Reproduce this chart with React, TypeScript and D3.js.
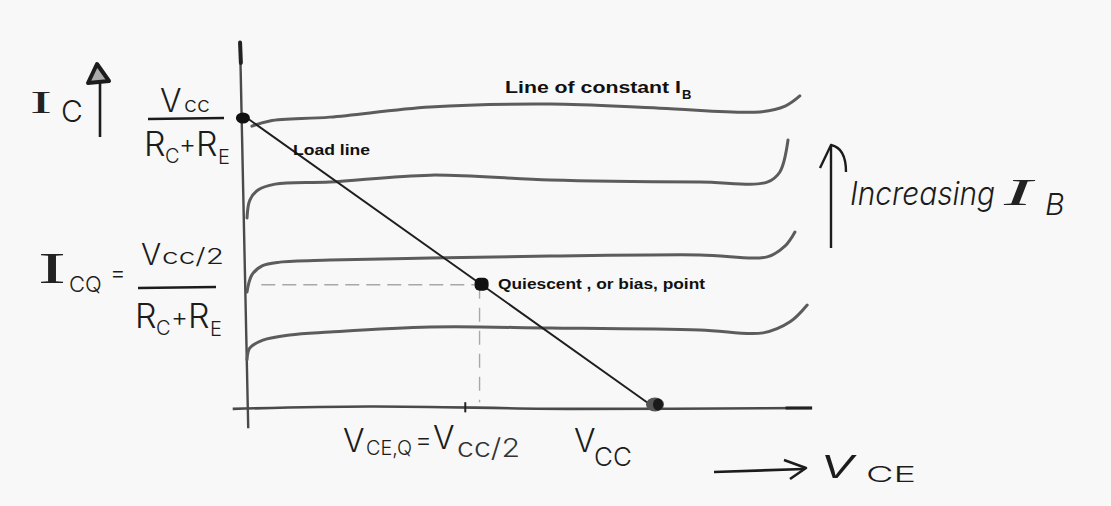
import React from "react";
import * as d3 from "d3";

// Collector current in units of Vcc/(Rc+Re) / 10, collector-emitter voltage in units of Vcc / 10
const VCC = 10;
const IC_SAT = 10;

// Collector characteristic curves, one per base current (lowest to highest), as [VCE, IC]
const curveLow: [number, number][] = [
  [0, 1.66], [0.07, 2.07], [0.39, 2.34], [1.05, 2.52], [2.03, 2.62], [4.49, 2.79],
  [7.43, 2.76], [11.1, 2.69], [12.65, 2.59], [13.31, 2.97], [13.73, 3.55],
];
const curveMid: [number, number][] = [
  [0, 4.0], [0.12, 4.59], [0.37, 4.9], [0.81, 5.03], [2.03, 5.1], [4.49, 5.17],
  [7.43, 5.24], [11.1, 5.28], [12.75, 5.21], [13.19, 5.59], [13.43, 6.07],
];
const curveHigh: [number, number][] = [
  [0, 6.55], [0.07, 7.17], [0.27, 7.52], [0.69, 7.72], [2.03, 7.79], [4.49, 8.03],
  [7.43, 7.86], [11.1, 7.79], [12.75, 7.79], [13.06, 8.14], [13.26, 9.24],
];
const curveTop: [number, number][] = [
  [0.12, 9.72], [0.56, 9.9], [2.03, 10.03], [4.49, 10.38], [7.43, 10.48],
  [10.12, 10.34], [12.57, 10.21], [13.19, 10.41], [13.55, 10.76],
];
const ibCurves = [curveLow, curveMid, curveHigh, curveTop];

// Load line end points and the operating point on it
const loadLine: [number, number][] = [[0, IC_SAT], [VCC, 0]];
const VCE_Q = 5.75;
const IC_Q = IC_SAT - VCE_Q;
const VCE_Q_TICK = 5.35;

const x = d3.scaleLinear().domain([0, VCC]).range([247, 655]);
const y = d3.scaleLinear().domain([0, IC_SAT]).range([408, 118]);

const line = d3
  .line<[number, number]>()
  .x((d) => x(d[0]))
  .y((d) => y(d[1]))
  .curve(d3.curveCatmullRom.alpha(0.5));

const straight = d3
  .line<[number, number]>()
  .x((d) => x(d[0]))
  .y((d) => y(d[1]));

const hand = { fontFamily: "Inter", fontWeight: 300, fill: "#1c1c1c" } as const;
const handSerif = { fontFamily: "Liberation Serif", fill: "#222" } as const;
const bold = { fontFamily: "Liberation Sans, Arial, sans-serif", fontWeight: 700, fill: "#111" } as const;
const fit = "spacingAndGlyphs";

export default function App() {
  return (
    <svg
      width={1111}
      height={506}
      style={{ position: "absolute", left: 0, top: 0, background: "#f8f8f8" }}
    >
      <rect width={1111} height={506} fill="#f8f8f8" />

      {/* axes */}
      <path
        d={straight([[-0.17, 12.6], [0.03, -0.7]]) as string}
        stroke="#4a4a4a"
        strokeWidth={2.4}
        fill="none"
      />
      <path
        d={line([[-0.35, -0.03], [3, 0.05], [8, -0.03], [13.85, 0]]) as string}
        stroke="#4a4a4a"
        strokeWidth={2.6}
        fill="none"
      />
      <path d={straight([[13.2, 0], [13.85, 0]]) as string} stroke="#222" strokeWidth={3} />
      <path d={straight([[-0.17, 12.6], [-0.15, 11.9]]) as string} stroke="#222" strokeWidth={4} strokeLinecap="round" />

      {/* characteristic curves */}
      {ibCurves.map((c, i) => (
        <path key={i} d={line(c) as string} stroke="#5c5c5c" strokeWidth={3} fill="none" strokeLinecap="round" />
      ))}

      {/* operating point guides */}
      <path
        d={straight([[0.35, IC_Q], [VCE_Q, IC_Q]]) as string}
        stroke="#a8a8a8"
        strokeWidth={1.4}
        strokeDasharray="14 7"
        fill="none"
      />
      <path
        d={straight([[VCE_Q - 0.05, IC_Q], [VCE_Q - 0.05, 0.2]]) as string}
        stroke="#a8a8a8"
        strokeWidth={1.4}
        strokeDasharray="14 9"
        fill="none"
      />
      <path d={straight([[VCE_Q_TICK, -0.15], [VCE_Q_TICK, 0.2]]) as string} stroke="#222" strokeWidth={2} />

      {/* load line */}
      <path d={straight(loadLine) as string} stroke="#1e1e1e" strokeWidth={1.9} fill="none" />

      {/* end points and Q point */}
      <ellipse cx={x(-0.1)} cy={y(IC_SAT)} rx={7} ry={5.5} fill="#111" />
      <rect x={x(VCE_Q) - 7} y={y(IC_Q) - 7} width={14} height={13} rx={5} fill="#111" />
      <ellipse cx={x(VCC)} cy={y(0.12)} rx={9} ry={7} fill="#555" />
      <ellipse cx={x(VCC) + 3} cy={y(0.12)} rx={5} ry={6} fill="#1a1a1a" />

      {/* printed labels */}
      <text x={505} y={93} fontSize={17} {...bold} textLength={176} lengthAdjust={fit}>
        Line of constant I
      </text>
      <text x={682} y={99} fontSize={13} {...bold}>B</text>
      <text x={293} y={155} fontSize={14} {...bold} textLength={77} lengthAdjust={fit}>
        Load line
      </text>
      <text x={498} y={289} fontSize={14} {...bold} textLength={207} lengthAdjust={fit}>
        Quiescent , or bias, point
      </text>

      {/* I_C with arrow */}
      <text x={30} y={113} fontSize={32} {...handSerif} textLength={22} lengthAdjust={fit}>I</text>
      <text x={61} y={122} fontSize={30} {...hand}>C</text>
      <path d="M100,137 L100,72" stroke="#1c1c1c" strokeWidth={2.6} fill="none" />
      <path d="M88,83 L97,64 L109,81 Z" stroke="#1c1c1c" strokeWidth={4} fill="#aaa" strokeLinejoin="round" />

      {/* Vcc / (Rc + Re) */}
      <text x={160} y={112} fontSize={32} {...hand}>V</text>
      <text x={184} y={112} fontSize={22} {...hand} textLength={26} lengthAdjust={fit}>cc</text>
      <path d="M148,119 L224,118" stroke="#1c1c1c" strokeWidth={2.4} />
      <text x={144} y={156} fontSize={34} {...hand}>R</text>
      <text x={165} y={163} fontSize={20} {...hand}>C</text>
      <text x={179} y={153} fontSize={26} {...hand}>+</text>
      <text x={196} y={156} fontSize={34} {...hand}>R</text>
      <text x={218} y={164} fontSize={20} {...hand}>E</text>

      {/* I_CQ = (Vcc/2) / (Rc + Re) */}
      <text x={38} y={283} fontSize={44} {...handSerif} textLength={28} lengthAdjust={fit}>I</text>
      <text x={69} y={292} fontSize={22} {...hand}>CQ</text>
      <text x={110} y={281} fontSize={24} {...hand}>=</text>
      <text x={141} y={265} fontSize={30} {...hand}>V</text>
      <text x={162} y={264} fontSize={22} {...hand} textLength={62} lengthAdjust={fit}>cc/2</text>
      <path d="M138,288 L216,287" stroke="#1c1c1c" strokeWidth={2.4} />
      <text x={135} y={328} fontSize={34} {...hand}>R</text>
      <text x={156} y={335} fontSize={20} {...hand}>C</text>
      <text x={171} y={326} fontSize={26} {...hand}>+</text>
      <text x={188} y={328} fontSize={34} {...hand}>R</text>
      <text x={210} y={336} fontSize={20} {...hand}>E</text>

      {/* V_CE,Q = Vcc/2 and V_CC under the axis */}
      <text x={343} y={452} fontSize={32} {...hand}>V</text>
      <text x={366} y={455} fontSize={20} {...hand} textLength={46} lengthAdjust={fit}>CE,Q</text>
      <text x={415} y={449} fontSize={26} {...hand}>=</text>
      <text x={433} y={449} fontSize={32} {...hand}>V</text>
      <text x={457} y={457} fontSize={26} {...hand} fill="#333" textLength={63} lengthAdjust={fit}>cc/2</text>
      <text x={574} y={452} fontSize={32} {...hand}>V</text>
      <text x={594} y={466} fontSize={26} {...hand}>CC</text>

      {/* v_CE arrow */}
      <path d="M714,472 L804,469" stroke="#1c1c1c" strokeWidth={2.6} fill="none" />
      <path d="M784,460 L806,468 L790,479" stroke="#1c1c1c" strokeWidth={2.6} fill="none" strokeLinejoin="round" />
      <text x={820} y={478} fontSize={42} {...hand} fontStyle="italic" textLength={36} lengthAdjust={fit}>v</text>
      <text x={866} y={482} fontSize={22} {...hand} textLength={50} lengthAdjust={fit}>CE</text>

      {/* increasing base current */}
      <path d="M831,248 L831,146" stroke="#1c1c1c" strokeWidth={2.4} fill="none" />
      <path d="M820,168 L831,145 Q846,148 846,172" stroke="#1c1c1c" strokeWidth={2.4} fill="none" />
      <text x={850} y={205} fontSize={32} {...hand} fontStyle="italic" textLength={145} lengthAdjust={fit}>
        Increasing
      </text>
      <text x={1004} y={205} fontSize={38} {...handSerif} fontStyle="italic" textLength={28} lengthAdjust={fit}>I</text>
      <text x={1045} y={215} fontSize={30} {...hand} fontStyle="italic">B</text>
    </svg>
  );
}
